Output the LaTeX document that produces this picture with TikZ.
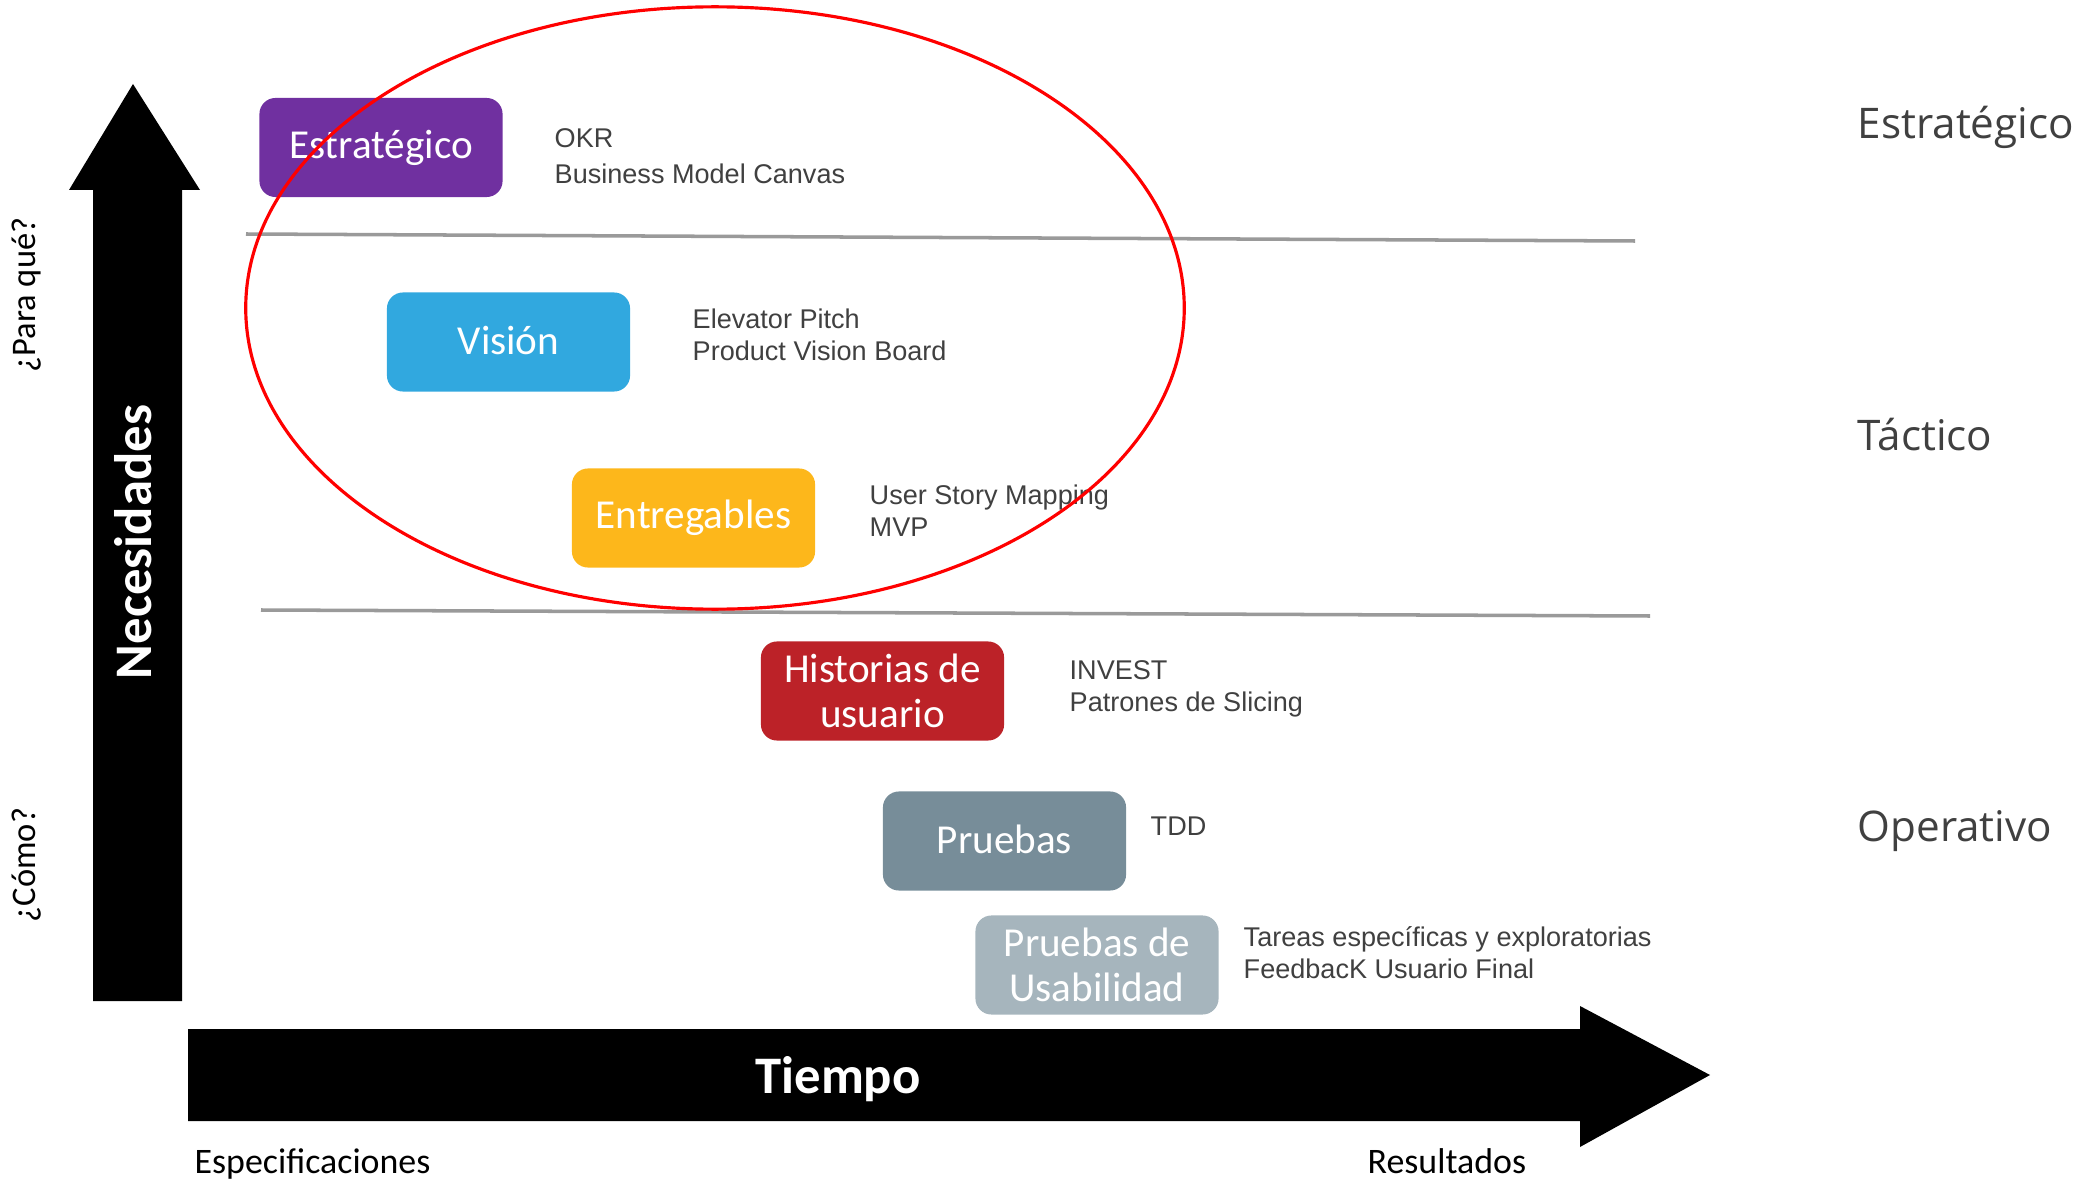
\documentclass[tikz,border=0pt]{standalone}
\usepackage{fontspec}
\newfontfamily\boxfont{Carlito}
\newfontfamily\descfont{Liberation Sans}
\newfontfamily\levelfont{Open Sans}
\definecolor{cpurple}{HTML}{7030A0}
\definecolor{cblue}{HTML}{31A8DF}
\definecolor{corange}{HTML}{FDB71B}
\definecolor{cred}{HTML}{BC2228}
\definecolor{cslate}{HTML}{778D99}
\definecolor{clight}{HTML}{A6B5BD}
\definecolor{ctext}{HTML}{404040}
\definecolor{cline}{HTML}{9A9A9A}
\newcommand{\upbit}[1]{\raisebox{0.035cm}{#1}}
\tikzset{
  stagebox/.style={rectangle, rounded corners=0.16cm, minimum width=2.43cm, minimum height=0.99cm,
    text=white, font=\boxfont\fontsize{11.7}{12.8}\selectfont, align=center, inner sep=0pt},
  desc/.style={anchor=west, inner sep=0pt, text=ctext, align=left,
    font=\descfont\fontsize{7.7}{9.1}\selectfont},
  level/.style={anchor=west, inner sep=0pt, text=ctext, font=\levelfont\fontsize{12}{14}\selectfont},
  sidelabel/.style={rotate=90, inner sep=0pt, font=\boxfont\fontsize{9.8}{11}\selectfont},
  bottomlabel/.style={anchor=base west, inner sep=0pt, font=\boxfont\fontsize{10.2}{12}\selectfont},
  bigword/.style={text=white, inner sep=0pt, font=\boxfont\bfseries\fontsize{15}{17}\selectfont},
  sepline/.style={draw=cline, line width=1pt}
}
\begin{document}
\begin{tikzpicture}[x=0.01cm, y=-0.01cm]
\path[use as bounding box] (0,0) rectangle (2087,1182);
% axes arrows
\fill[black] (93,1001) -- (93,190) -- (69,190) -- (133,84) -- (200,190) -- (182,190) -- (182,1001) -- cycle;
\fill[black] (188,1029) -- (1580,1029) -- (1580,1006) -- (1710,1075) -- (1580,1147) -- (1580,1121) -- (188,1121) -- cycle;
\node[bigword, rotate=90] (need) at (133,542) {Necesidades};
\node[bigword] (time) at (838,1079) {Tiempo};
% side and bottom labels
\node[sidelabel] (para) at (27,295) {¿Para qué?};
\node[sidelabel] (como) at (27,865) {¿Cómo?};
\node[bottomlabel] (espec) at (194,1173) {Especificaciones};
\node[bottomlabel] (result) at (1367,1173) {Resultados};
% separators
\draw[sepline] (246,234) -- (1635,241);
\draw[sepline] (261,610) -- (1650,616);
% stage boxes
\node[stagebox, fill=cpurple] (estr) at (381,147.5) {\upbit{Estratégico}};
\node[stagebox, fill=cblue] (vis) at (508.5,342) {\upbit{Visión}};
\node[stagebox, fill=corange] (entr) at (693.5,518) {\upbit{Entregables}};
\node[stagebox, fill=cred] (hist) at (882.5,691) {Historias de\\usuario};
\node[stagebox, fill=cslate] (prue) at (1004.5,841) {\upbit{Pruebas}};
\node[stagebox, fill=clight] (usab) at (1097,965) {Pruebas de\\Usabilidad};
% descriptions
\node[desc, font=\descfont\fontsize{7.7}{10.2}\selectfont] (d1) at (554,156) {OKR\\Business Model Canvas};
\node[desc] (d2) at (692,335) {Elevator Pitch\\Product Vision Board};
\node[desc] (d3) at (869,511) {User Story Mapping\\MVP};
\node[desc] (d4) at (1069,689) {INVEST\\Patrones de Slicing};
\node[desc] (d5) at (1150,826) {TDD};
\node[desc] (d6) at (1243,953) {Tareas específicas y exploratorias\\FeedbacK Usuario Final};
% levels
\node[level] (l1) at (1857,127) {Estratégico};
\node[level] (l2) at (1857,435) {Táctico};
\node[level] (l3) at (1857,831) {Operativo};
% red ellipse
\draw[red, line width=0.9pt] (715,308) ellipse [x radius=4.69cm, y radius=3.01cm];
\end{tikzpicture}
\end{document}
